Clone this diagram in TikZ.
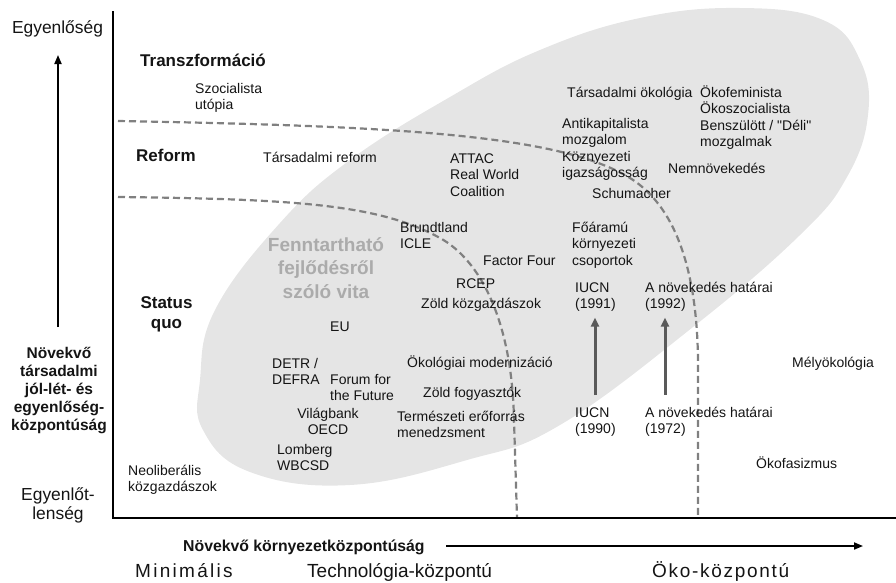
\documentclass[tikz,border=0pt]{standalone}
\usepackage{fontspec}
\setmainfont{Liberation Sans}
\usetikzlibrary{arrows.meta}
\definecolor{blobc}{HTML}{E5E5E5}
\definecolor{dashc}{HTML}{808080}
\definecolor{arrc}{HTML}{5A5A5A}
\definecolor{fenc}{HTML}{ABABAB}
\definecolor{txtc}{HTML}{141414}
\newcommand{\strq}{\XeTeXglyph\XeTeXcharglyph"22\relax}
\begin{document}
\begin{tikzpicture}[x=1pt, y=-1pt,
  every node/.style={inner sep=0pt, text=txtc},
  body/.style={font=\fontsize{14}{16.5}\selectfont, anchor=base west, align=left},
  bodyc/.style={font=\fontsize{14}{16.5}\selectfont, anchor=base, align=center},
  head/.style={font=\bfseries\fontsize{17}{20}\selectfont, anchor=base west, align=left},
  headc/.style={font=\bfseries\fontsize{17}{20}\selectfont, anchor=base, align=center},
  axlbl/.style={font=\fontsize{17.4}{19.5}\selectfont, anchor=base, align=center},
  sidelbl/.style={font=\bfseries\fontsize{15.5}{18}\selectfont, anchor=base, align=center},
  botlbl/.style={font=\fontsize{19}{22}\selectfont, anchor=base west},
  fenlbl/.style={font=\bfseries\fontsize{19}{23.5}\selectfont, anchor=base, align=center, text=fenc},
  dline/.style={dashc, line width=2.2pt, dash pattern=on 7pt off 4pt},
  garrow/.style={arrc, line width=3pt, -{Triangle[length=9pt,width=8pt]}},
  axisline/.style={line width=2.5pt, line cap=rect},
  karrow/.style={line width=1.8pt, -{Triangle[length=9pt,width=7pt]}}
]
\useasboundingbox (0,0) rectangle (896,582);

% grey region
\fill[blobc] plot[smooth cycle, tension=0.7] coordinates {
  (280,223) (350,160) (450,97) (540,50) (640,18) (740,8) (823,20) (860,60)
  (868,115) (847,177) (800,235) (693,327) (560,425) (467,460) (350,485)
  (250,472) (203,430) (200,380) (215,310)};

% dashed boundaries
\coordinate (d1s) at (118,121);
\coordinate (d1e) at (698,518);
\coordinate (d2s) at (118,197);
\coordinate (d2e) at (517,518);
\draw[dline] (d1s) .. controls (400,126) and (560,135) .. (630,178)
  .. controls (680,209) and (697,280) .. (698,360) -- (d1e);
\draw[dline] (d2s) .. controls (300,199) and (380,205) .. (440,238)
  .. controls (480,260) and (512,320) .. (514,420) -- (d2e);

% axes
\coordinate (O) at (113,518);
\coordinate (ytop) at (113,12);
\coordinate (xend) at (896,518);
\draw[axisline] (ytop) -- (O) -- (xend);

% outer arrows
\coordinate (va) at (58,327);
\coordinate (vb) at (58,55);
\draw[karrow] (va) -- (vb);
\coordinate (ha) at (446,546);
\coordinate (hb) at (863,546);
\draw[karrow] (ha) -- (hb);

% axis labels (base anchor = baseline of last line)
\node[axlbl] (eq) at (57.5,33) {Egyenlőség};
\node[axlbl] (ineq) at (58,519.5) {Egyenlőt-\\lenség};
\node[sidelbl] (social) at (59,430.5) {Növekvő\\társadalmi\\jól-lét- és\\egyenlőség-\\központúság};
\node[font=\bfseries\fontsize{15.8}{18}\selectfont, anchor=base west] (envax) at (183,551) {Növekvő környezetközpontúság};
\node[botlbl, font=\fontsize{19}{22}\selectfont\addfontfeatures{LetterSpace=12}] (minim) at (135,577) {Minimális};
\node[botlbl] (techn) at (307,577) {Technológia-központú};
\node[botlbl, font=\fontsize{19}{22}\selectfont\addfontfeatures{LetterSpace=9}] (ecoc) at (652,577) {Öko-központú};

% headings
\node[head] (trans) at (140,66) {Transzformáció};
\node[head] (reform) at (136,161) {Reform};
\node[headc] (statq) at (166.5,328) {Status\\quo};

% central label
\node[fenlbl] (fennt) at (326,298) {Fenntartható\\fejlődésről\\szóló vita};

% left / middle texts
\node[body] (szoc) at (195,109.5) {Szocialista\\utópia};
\node[body] (tref) at (263,162) {Társadalmi reform};
\node[body] (attac) at (450,196) {ATTAC\\Real World\\Coalition};
\node[body] (brundt) at (400,248.5) {Brundtland\\ICLE};
\node[body] (factor) at (483,265) {Factor Four};
\node[body] (rcep) at (456,288) {RCEP};
\node[body] (zoldk) at (421,308) {Zöld közgazdászok};
\node[body] (eu) at (330,331) {EU};
\node[body] (okmod) at (407,367) {Ökológiai modernizáció};
\node[body] (detr) at (272,384.5) {DETR /\\DEFRA};
\node[body] (forum) at (330,400.5) {Forum for\\the Future};
\node[body] (zoldf) at (423,397) {Zöld fogyasztók};
\node[bodyc] (vilag) at (328,434.5) {Világbank\\OECD};
\node[body] (lomb) at (277,470.5) {Lomberg\\WBCSD};
\node[body] (term) at (397,437.5) {Természeti erőforrás\\menedzsment};
\node[body] (neolib) at (128,491.5) {Neoliberális\\közgazdászok};

% right texts
\node[body] (tarsok) at (567,97) {Társadalmi ökológia};
\node[body] (okofem) at (700,146.5) {Ökofeminista\\Ökoszocialista\\Benszülött / \strq Déli\strq\\mozgalmak};
\node[body] (antik) at (562,177.5) {Antikapitalista\\mozgalom\\Köznyezeti\\igazságosság};
\node[body] (schum) at (592,198) {Schumacher};
\node[body] (nemno) at (668,173) {Nemnövekedés};
\node[body] (foar) at (572,265) {Főáramú\\környezeti\\csoportok};
\node[body] (iucnb) at (575,308.5) {IUCN\\(1991)};
\node[body] (novb) at (645,308.5) {A növekedés határai\\(1992)};
\node[body] (iucna) at (575,433.5) {IUCN\\(1990)};
\node[body] (nova) at (645,433.5) {A növekedés határai\\(1972)};
\node[body] (mely) at (792,367) {Mélyökológia};
\node[body] (fasiz) at (756,468) {Ökofasizmus};

% grey arrows
\draw[garrow] ([xshift=20pt,yshift=12pt]iucna.north west) -- ([xshift=20pt,yshift=-6pt]iucnb.south west);
\draw[garrow] ([xshift=20pt,yshift=12pt]nova.north west) -- ([xshift=20pt,yshift=-6pt]novb.south west);
\end{tikzpicture}
\end{document}
